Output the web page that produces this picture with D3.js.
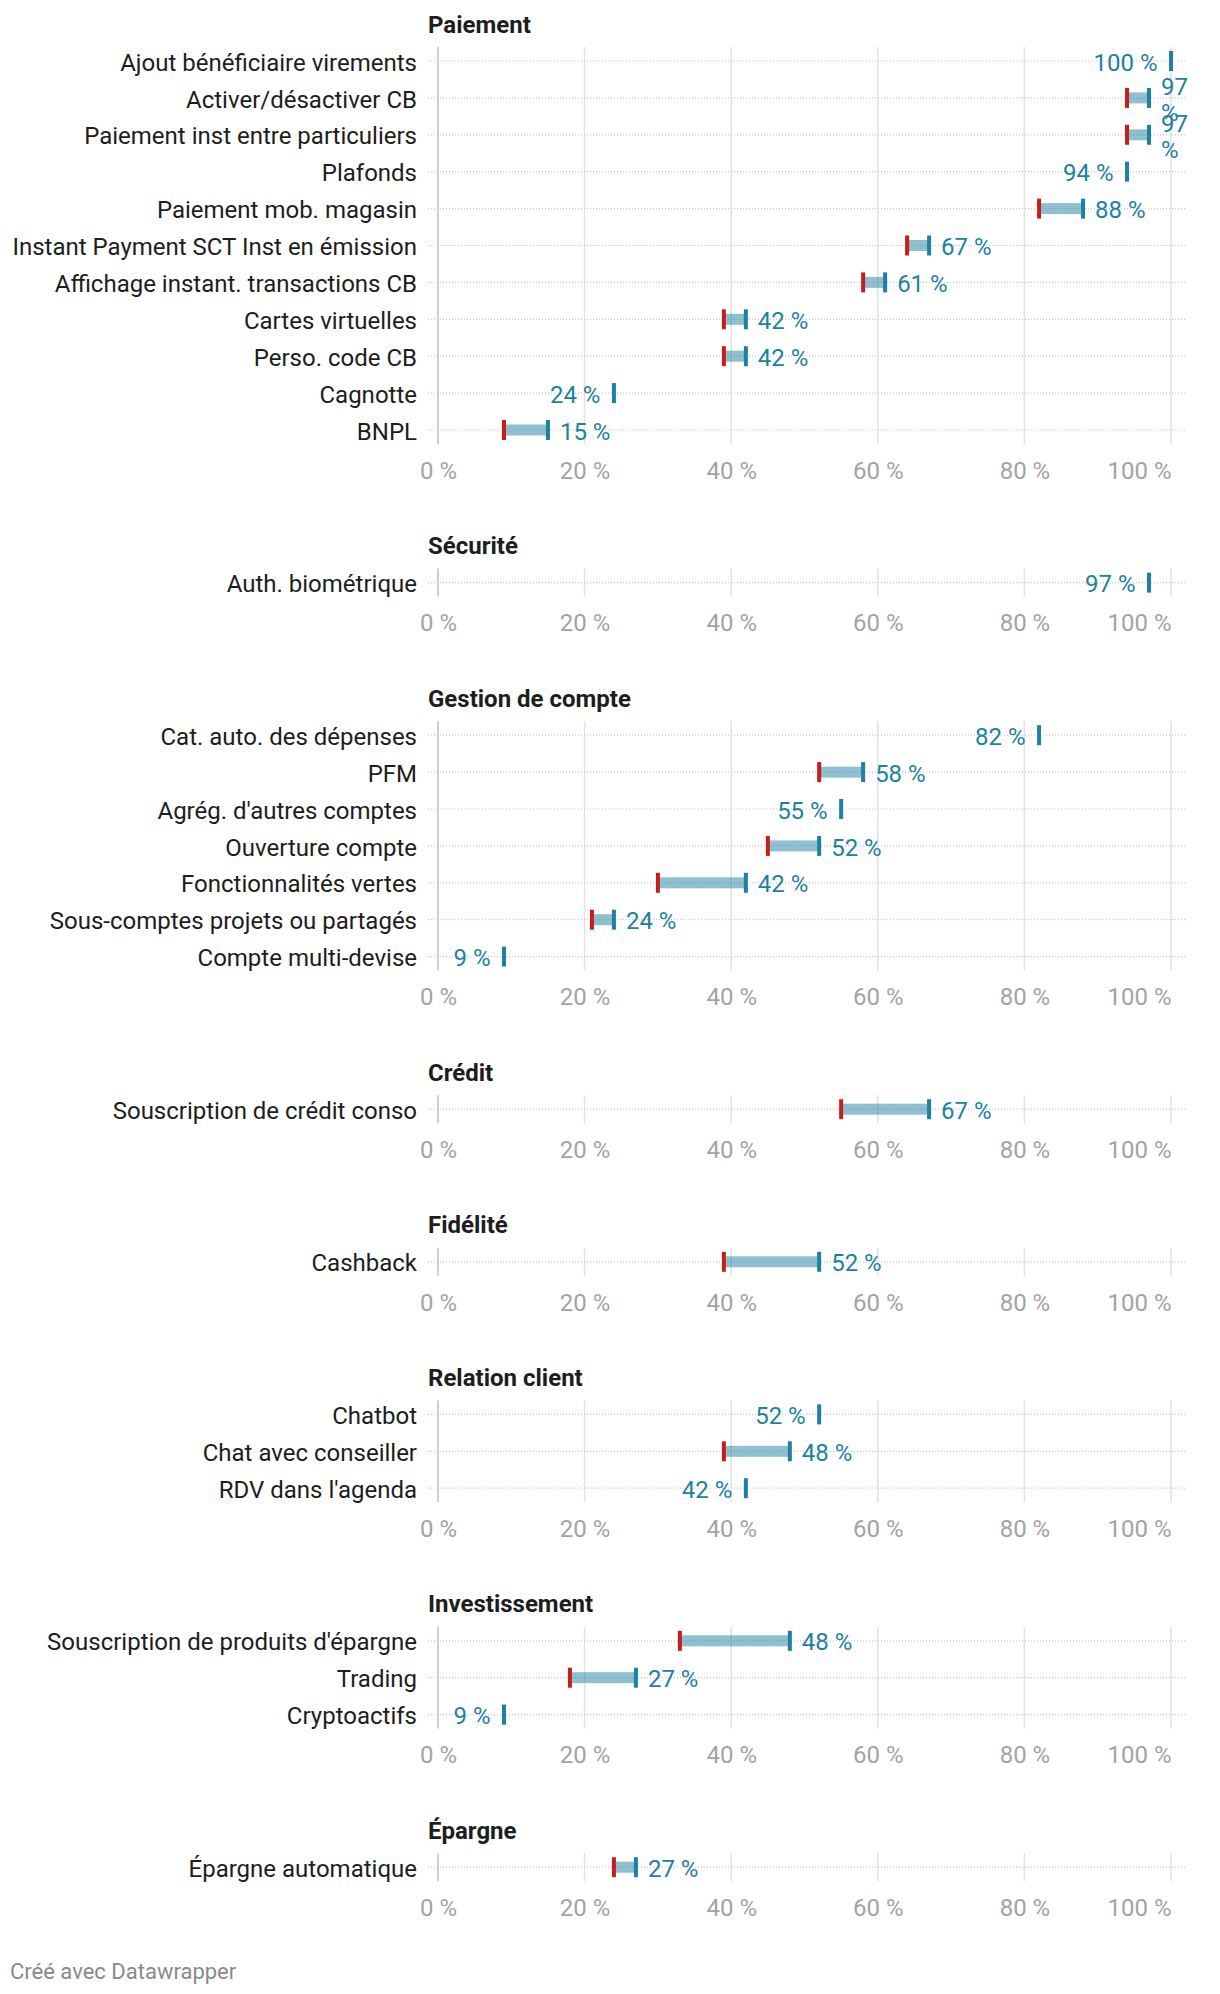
<!DOCTYPE html>
<html><head><meta charset="utf-8">
<script src="https://cdn.jsdelivr.net/npm/d3@7"></script>
<style>
body{margin:0;background:#fff;}
svg{display:block;font-family:Roboto,"Noto Sans",sans-serif;}
</style></head><body>
<svg id="chart" width="1220" height="1994"></svg>
<script>
const groups = ["Paiement","Sécurité","Gestion de compte","Crédit","Fidélité","Relation client","Investissement","Épargne"];
const categories = [
  "Ajout bénéficiaire virements","Activer/désactiver CB","Paiement inst entre particuliers","Plafonds",
  "Paiement mob. magasin","Instant Payment SCT Inst en émission","Affichage instant. transactions CB",
  "Cartes virtuelles","Perso. code CB","Cagnotte","BNPL",
  "Auth. biométrique",
  "Cat. auto. des dépenses","PFM","Agrég. d'autres comptes","Ouverture compte","Fonctionnalités vertes",
  "Sous-comptes projets ou partagés","Compte multi-devise",
  "Souscription de crédit conso",
  "Cashback",
  "Chatbot","Chat avec conseiller","RDV dans l'agenda",
  "Souscription de produits d'épargne","Trading","Cryptoactifs",
  "Épargne automatique"
];
const categoryGroup = [0,0,0,0,0,0,0,0,0,0,0, 1, 2,2,2,2,2,2,2, 3, 4, 5,5,5, 6,6,6, 7];
const startValues = [null,94,94,null,82,64,58,39,39,null,9, null, null,52,null,45,30,21,null, 55, 39, null,39,null, 33,18,null, 24];
const endValues   = [100,97,97,94,88,67,61,42,42,24,15, 97, 82,58,55,52,42,24,9, 67, 52, 52,48,42, 48,27,9, 27];
const xTicks = [0,20,40,60,80,100];
const footerText = "Créé avec Datawrapper";

const BLUE = "#1d81a2", RED = "#c71e1d";
const svg = d3.select("#chart");
const x = d3.scaleLinear().domain([0,100]).range([438,1171]);
const fmt = v => v + " %";
const DY = "0.4em";

const rowGap = 36.9, titleToRow = 38, rowToTick = 40.3, tickToTitle = 74.3;
let cursor = 23;

groups.forEach((gName, gi) => {
  const idx = categories.map((c,i)=>i).filter(i => categoryGroup[i] === gi);
  const rows = idx.map(i => ({name: categories[i], s: startValues[i], e: endValues[i]}));
  const titleY = cursor;
  const firstRow = titleY + titleToRow;
  const y = d3.scalePoint().domain(rows.map(r=>r.name)).range([firstRow, firstRow + (rows.length-1)*rowGap]);
  const lastRow = firstRow + (rows.length-1)*rowGap;
  const tickY = lastRow + rowToTick;
  const g = svg.append("g");

  // title
  g.append("text").attr("x", 428).attr("y", titleY).attr("dy", DY)
    .attr("font-size", 24).attr("font-weight", 700).attr("fill", "#1d1d1d").text(gName);

  // vertical gridlines
  g.selectAll("line.grid").data(xTicks).join("line")
    .attr("x1", d=>x(d)).attr("x2", d=>x(d))
    .attr("y1", firstRow - 14).attr("y2", lastRow + 14)
    .attr("stroke", d => d===0 ? "#c4c4c4" : "#e3e3e3").attr("stroke-width", 1.6);

  // dotted row lines
  g.selectAll("line.row").data(rows).join("line")
    .attr("x1", 428).attr("x2", 1186)
    .attr("y1", d=>y(d.name)).attr("y2", d=>y(d.name))
    .attr("stroke", "#c8c8c8").attr("stroke-width", 1.2).attr("stroke-dasharray", "1,2");

  // row labels
  g.selectAll("text.lab").data(rows).join("text")
    .attr("x", 417).attr("y", d=>y(d.name)).attr("dy", DY)
    .attr("text-anchor","end").attr("font-size", 24).attr("fill", "#1d1d1d").text(d=>d.name);

  // range bars
  const ranged = rows.filter(d => d.s !== null);
  g.selectAll("rect.bar").data(ranged).join("rect")
    .attr("x", d=>x(d.s)).attr("width", d=>x(d.e)-x(d.s))
    .attr("y", d=>y(d.name)-5.5).attr("height", 11)
    .attr("fill", BLUE).attr("fill-opacity", 0.5);
  g.selectAll("rect.start").data(ranged).join("rect")
    .attr("x", d=>x(d.s)-2).attr("width", 4)
    .attr("y", d=>y(d.name)-10).attr("height", 20).attr("fill", RED);
  g.selectAll("rect.end").data(rows).join("rect")
    .attr("x", d=>x(d.e)-2).attr("width", 4)
    .attr("y", d=>y(d.name)-10).attr("height", 20).attr("fill", BLUE);

  // value labels
  g.selectAll("text.val").data(rows).join("text")
    .attr("font-size", 24).attr("fill", BLUE)
    .each(function(d){
      const t = d3.select(this);
      const ry = y(d.name);
      if (d.s === null) {
        t.attr("x", x(d.e) - 13.5).attr("y", ry).attr("dy", DY).attr("text-anchor","end").text(fmt(d.e));
      } else {
        const lx = x(d.e) + 12;
        t.attr("x", lx).attr("y", ry).attr("dy", DY).attr("text-anchor","start").text(fmt(d.e));
        const w = this.getComputedTextLength();
        if (lx + w > 1205) {
          const parts = fmt(d.e).split(" ");
          t.text(null);
          parts.forEach((p,i) => t.append("tspan").attr("x", lx).attr("y", ry - 12.5 + i*26).attr("dy", DY).text(p));
        }
      }
    });

  // x axis tick labels
  const axis = d3.axisBottom(x).tickValues(xTicks).tickFormat(fmt).tickSize(0).tickPadding(0);
  const ag = g.append("g").attr("transform", `translate(0,${tickY})`).call(axis);
  ag.select(".domain").remove();
  ag.selectAll("text").attr("y", 0).attr("dy", "0.35em")
    .attr("font-size", 24).attr("font-family","Roboto,'Noto Sans',sans-serif").attr("fill", "#a3a3a3")
    .attr("text-anchor", d => d === 100 ? "end" : "middle");

  cursor = tickY + tickToTitle;
});

svg.append("text").attr("x", 10).attr("y", 1971).attr("dy","0.35em")
  .attr("font-size", 22).attr("fill", "#8a8a8a").text(footerText);
</script>
</body></html>
